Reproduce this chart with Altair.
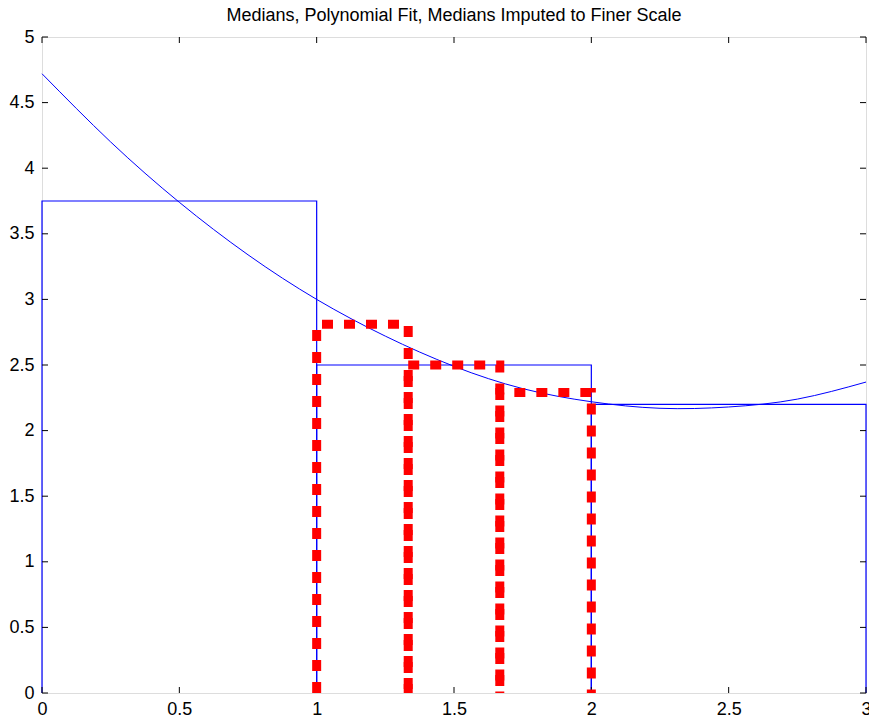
import altair as alt
import pandas as pd

# Blue: medians on coarse scale (bar edges and heights)
coarse_edges = [0, 1, 2, 3]
coarse_medians = [3.75, 2.5, 2.2]

# Red: medians imputed to finer scale
fine_edges = [1, 1.3333, 1.6667, 2]
fine_medians = [2.81, 2.5, 2.29]

# Polynomial fit curve
fit_x = [0, 0.25, 0.5, 0.75, 1.0, 1.25, 1.5, 1.75, 2.0, 2.25, 2.5, 2.75, 3.0]
fit_y = [4.72, 4.20, 3.74, 3.34, 3.00, 2.72, 2.49, 2.32, 2.22, 2.17, 2.18, 2.24, 2.37]

x_ticks = [0, 0.5, 1, 1.5, 2, 2.5, 3]
y_ticks = [0, 0.5, 1, 1.5, 2, 2.5, 3, 3.5, 4, 4.5, 5]

W, H = 824, 656
TICK = 6


def bar_paths(edges, heights):
    rows = []
    for i, h in enumerate(heights):
        x0, x1 = edges[i], edges[i + 1]
        for j, (px, py) in enumerate([(x0, 0), (x0, h), (x1, h), (x1, 0)]):
            rows.append({"bar": i, "ord": j, "x": px, "y": py})
    return pd.DataFrame(rows)


blue_df = bar_paths(coarse_edges, coarse_medians)
red_df = bar_paths(fine_edges, fine_medians)
fit_df = pd.DataFrame({"x": fit_x, "y": fit_y})
xt_df = pd.DataFrame({"t": x_ticks})
yt_df = pd.DataFrame({"t": y_ticks})

FONT = "Liberation Sans"
xscale = alt.Scale(domain=[0, 3], nice=False, zero=False)
yscale = alt.Scale(domain=[0, 5], nice=False, zero=False)

lab_common = dict(domain=False, ticks=False, grid=False, title=None,
                  labelFont=FONT, labelFontSize=18, labelColor="black",
                  labelFlush=False, labelOverlap=False, format="~g")
x_lab = alt.Axis(orient="bottom", values=x_ticks, labelPadding=7, **lab_common)
y_lab = alt.Axis(orient="left", values=y_ticks, labelPadding=8, **lab_common)

blue = alt.Chart(blue_df).mark_line(color="#0000ff", strokeWidth=1.2).encode(
    x=alt.X("x:Q", scale=xscale, axis=x_lab),
    y=alt.Y("y:Q", scale=yscale, axis=y_lab),
    detail="bar:N",
    order="ord:Q",
)

fit = alt.Chart(fit_df).mark_line(color="#0000ff", strokeWidth=1,
                                  interpolate="natural").encode(
    x=alt.X("x:Q", scale=xscale),
    y=alt.Y("y:Q", scale=yscale),
)

# inward ticks on all four edges
tick_style = dict(color="black", strokeWidth=1)
bottom_ticks = alt.Chart(xt_df).mark_rule(**tick_style).encode(
    x=alt.X("t:Q", scale=xscale), y=alt.value(H - TICK), y2=alt.value(H))
top_ticks = alt.Chart(xt_df).mark_rule(**tick_style).encode(
    x=alt.X("t:Q", scale=xscale), y=alt.value(0), y2=alt.value(TICK))
left_ticks = alt.Chart(yt_df).mark_rule(**tick_style).encode(
    y=alt.Y("t:Q", scale=yscale), x=alt.value(0), x2=alt.value(TICK))
right_ticks = alt.Chart(yt_df).mark_rule(**tick_style).encode(
    y=alt.Y("t:Q", scale=yscale), x=alt.value(W - TICK), x2=alt.value(W))

# dash offsets so overlapping shared edges look like the reference
dash_offsets = [0, 2, 15]
red_layers = []
for i, off in enumerate(dash_offsets):
    red_layers.append(
        alt.Chart(red_df).transform_filter(alt.datum.bar == i)
        .mark_line(color="#ff0000", strokeWidth=9, strokeDash=[11, 11],
                   strokeDashOffset=off, strokeCap="butt", strokeJoin="miter")
        .encode(
            x=alt.X("x:Q", scale=xscale),
            y=alt.Y("y:Q", scale=yscale),
            order="ord:Q",
        )
    )

chart = alt.layer(blue, bottom_ticks, top_ticks, left_ticks, right_ticks,
                  fit, *red_layers).properties(
    width=W,
    height=H,
    title=alt.TitleParams("Medians, Polynomial Fit, Medians Imputed to Finer Scale",
                          font=FONT, fontSize=18, fontWeight="normal", color="black",
                          anchor="middle", offset=3),
    autosize=alt.AutoSizeParams(type="none"),
    padding={"left": 42, "top": 37, "right": 3, "bottom": 26},
).configure_view(stroke="black", strokeWidth=1.2).configure(background="white")

chart.save("out.html", embed_options={"renderer": "svg", "actions": False})
